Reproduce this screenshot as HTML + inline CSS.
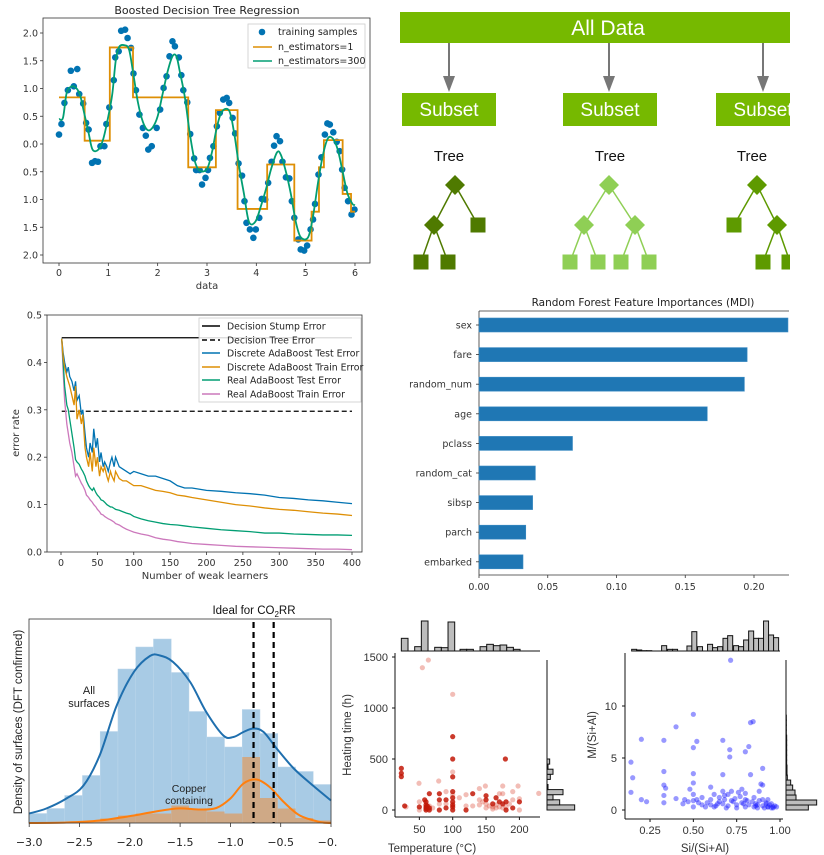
<!DOCTYPE html>
<html><head><meta charset="utf-8">
<style>
html,body{margin:0;padding:0;background:#fff;}
svg{display:block;font-family:"DejaVu Sans","Liberation Sans",sans-serif;}
</style></head>
<body>
<svg id="root" width="824" height="855" viewBox="0 0 824 855" xmlns="http://www.w3.org/2000/svg">
<defs>
<clipPath id="clipP5"><rect x="0" y="600" width="337" height="255"/></clipPath>
<clipPath id="clipP2"><rect x="390" y="0" width="400" height="290"/></clipPath>
<clipPath id="clipP4"><rect x="479" y="300" width="310" height="280"/></clipPath>
</defs>

<!-- PANEL 1 -->
<g id="p1">
<text x="207" y="14" text-anchor="middle" font-size="11" fill="#222">Boosted Decision Tree Regression</text>
<rect x="43" y="18" width="327" height="245" fill="none" stroke="#333" stroke-width="0.8"/>
<g id="p1ticks" font-size="9.5" fill="#333"></g>
<g id="p1marks"></g>
<text x="207" y="289" text-anchor="middle" font-size="10" fill="#333">data</text>
<g>
<rect x="248" y="24" width="117" height="44" fill="#fff" fill-opacity="0.9" stroke="#ccc" stroke-width="0.8"/>
<circle cx="262" cy="32" r="3.3" fill="#0173b2"/>
<text x="278" y="35" font-size="9.5" fill="#222">training samples</text>
<line x1="253" y1="47" x2="272" y2="47" stroke="#de8f05" stroke-width="1.6"/>
<text x="278" y="50" font-size="9.5" fill="#222">n_estimators=1</text>
<line x1="253" y1="61" x2="272" y2="61" stroke="#029e73" stroke-width="1.6"/>
<text x="278" y="64" font-size="9.5" fill="#222">n_estimators=300</text>
</g>
</g>

<!-- PANEL 2 -->
<g id="p2" clip-path="url(#clipP2)">
<rect x="400" y="12" width="400" height="31" fill="#76b900"/>
<text x="608" y="35" text-anchor="middle" font-family="Liberation Sans, sans-serif" font-size="21" fill="#fff">All Data</text>
<g fill="#777" stroke="#777">
<line x1="449" y1="43" x2="449" y2="80" stroke-width="2"/><polygon points="443,76 455,76 449,92" stroke="none"/>
<line x1="609" y1="43" x2="609" y2="80" stroke-width="2"/><polygon points="603,76 615,76 609,92" stroke="none"/>
<line x1="763" y1="43" x2="763" y2="80" stroke-width="2"/><polygon points="757,76 769,76 763,92" stroke="none"/>
</g>
<rect x="402" y="93" width="94" height="33" fill="#76b900"/>
<rect x="563" y="93" width="94" height="33" fill="#76b900"/>
<rect x="716" y="93" width="94" height="33" fill="#76b900"/>
<g font-family="Liberation Sans, sans-serif" font-size="19" fill="#fff" text-anchor="middle">
<text x="449" y="116">Subset</text>
<text x="610" y="116">Subset</text>
<text x="763" y="116">Subset</text>
</g>
<g font-family="Liberation Sans, sans-serif" font-size="15" fill="#111" text-anchor="middle">
<text x="449" y="161">Tree</text>
<text x="610" y="161">Tree</text>
<text x="752" y="161">Tree</text>
</g>
<g id="trees"></g>
</g>

<!-- PANEL 3 -->
<g id="p3">
<rect x="47" y="315" width="315" height="237" fill="none" stroke="#333" stroke-width="0.8"/>
<g id="p3ticks" font-size="9.5" fill="#333"></g>
<g id="p3marks"></g>
<text x="205" y="579" text-anchor="middle" font-size="10" fill="#333">Number of weak learners</text>
<text transform="translate(19,433) rotate(-90)" text-anchor="middle" font-size="10" fill="#333">error rate</text>
<g>
<rect x="199" y="318" width="162" height="84" fill="#fff" fill-opacity="0.85" stroke="#ccc" stroke-width="0.8"/>
<g font-size="9.3" fill="#222">
<line x1="202" y1="326" x2="220" y2="326" stroke="#000" stroke-width="1.5"/><text x="227" y="329.5">Decision Stump Error</text>
<line x1="202" y1="340" x2="220" y2="340" stroke="#000" stroke-width="1.5" stroke-dasharray="5,3"/><text x="227" y="343.5">Decision Tree Error</text>
<line x1="202" y1="353" x2="220" y2="353" stroke="#0173b2" stroke-width="1.5"/><text x="227" y="356.5">Discrete AdaBoost Test Error</text>
<line x1="202" y1="367" x2="220" y2="367" stroke="#de8f05" stroke-width="1.5"/><text x="227" y="370.5">Discrete AdaBoost Train Error</text>
<line x1="202" y1="380" x2="220" y2="380" stroke="#029e73" stroke-width="1.5"/><text x="227" y="383.5">Real AdaBoost Test Error</text>
<line x1="202" y1="394" x2="220" y2="394" stroke="#cc78bc" stroke-width="1.5"/><text x="227" y="397.5">Real AdaBoost Train Error</text>
</g></g>
</g>

<!-- PANEL 4 -->
<g id="p4">
<text x="643" y="306" text-anchor="middle" font-size="10.5" fill="#222">Random Forest Feature Importances (MDI)</text>
<line x1="479" y1="311" x2="789" y2="311" stroke="#333" stroke-width="0.8"/>
<line x1="479" y1="311" x2="479" y2="575" stroke="#333" stroke-width="0.8"/>
<line x1="479" y1="575" x2="789" y2="575" stroke="#333" stroke-width="0.8"/>
<g id="p4marks"></g>
<g id="p4ticks" font-size="9.5" fill="#333"></g>
</g>

<!-- PANEL 5 -->
<g id="p5" clip-path="url(#clipP5)">
<g id="p5marks"></g>
<rect x="29" y="619" width="302" height="204" fill="none" stroke="#333" stroke-width="0.8"/>
<g id="p5ticks" font-size="11" fill="#222"></g>
<text transform="translate(22,722) rotate(-90)" text-anchor="middle" font-family="Liberation Sans, sans-serif" font-size="11.5" fill="#222">Density of surfaces (DFT confirmed)</text>
<text x="254" y="614" text-anchor="middle" font-family="Liberation Sans, sans-serif" font-size="11.5" fill="#111">Ideal for CO<tspan font-size="8" dy="3">2</tspan><tspan dy="-3">RR</tspan></text>
<text x="89" y="694" text-anchor="middle" font-family="Liberation Sans, sans-serif" font-size="11" fill="#222">All</text>
<text x="89" y="707" text-anchor="middle" font-family="Liberation Sans, sans-serif" font-size="11" fill="#222">surfaces</text>
<text x="189" y="792" text-anchor="middle" font-family="Liberation Sans, sans-serif" font-size="10.5" fill="#222">Copper</text>
<text x="189" y="804" text-anchor="middle" font-family="Liberation Sans, sans-serif" font-size="10.5" fill="#222">containing</text>
</g>

<!-- PANEL 6 -->
<g id="p6" font-family="Liberation Sans, sans-serif">
<line x1="395" y1="653" x2="395" y2="817" stroke="#111" stroke-width="1"/>
<line x1="395" y1="817" x2="540" y2="817" stroke="#111" stroke-width="1"/>
<g id="p6marks"></g>
<g id="p6ticks" font-size="11" fill="#333"></g>
<text transform="translate(351,735) rotate(-90)" text-anchor="middle" font-size="11.5" fill="#333">Heating time (h)</text>
<text x="432" y="852" text-anchor="middle" font-size="11.5" fill="#333">Temperature (°C)</text>
</g>

<!-- PANEL 7 -->
<g id="p7" font-family="Liberation Sans, sans-serif">
<line x1="625" y1="653" x2="625" y2="819" stroke="#111" stroke-width="1"/>
<line x1="625" y1="819" x2="783" y2="819" stroke="#111" stroke-width="1"/>
<g id="p7marks"></g>
<g id="p7ticks" font-size="11" fill="#333"></g>
<text transform="translate(596,735) rotate(-90)" text-anchor="middle" font-size="11.5" fill="#333">M/(Si+Al)</text>
<text x="705" y="852" text-anchor="middle" font-size="11.5" fill="#333">Si/(Si+Al)</text>
</g>
</svg>

<script>
// ---------- DATA ----------
// Panel 1
const p1SampleX = [0,0.05,0.11,0.18,0.24,0.30,0.37,0.41,0.49,0.55,0.60,0.67,0.73,0.79,0.84,0.92,0.96,1.02,1.11,1.14,1.21,1.26,1.34,1.39,1.46,1.51,1.56,1.63,1.70,1.76,1.81,1.88,1.98,2.05,2.12,2.18,2.24,2.30,2.35,2.43,2.48,2.52,2.60,2.66,2.74,2.78,2.85,2.90,2.97,3.02,3.06,3.13,3.20,3.26,3.33,3.40,3.45,3.52,3.57,3.64,3.71,3.76,3.80,3.87,3.94,3.99,4.06,4.11,4.18,4.24,4.31,4.36,4.41,4.48,4.53,4.60,4.67,4.72,4.77,4.85,4.90,4.97,5.03,5.10,5.15,5.19,5.26,5.32,5.39,5.44,5.49,5.56,5.63,5.69,5.74,5.79,5.86,5.93,5.99];
const p1SampleY = [0.17,0.36,0.74,0.97,1.32,1.04,1.35,0.90,0.73,0.38,0.26,-0.34,-0.31,-0.32,-0.04,-0.04,0.36,0.66,1.15,1.56,1.67,2.04,2.06,1.91,1.73,1.27,0.97,0.53,0.29,0.15,-0.10,-0.04,0.29,0.62,1.01,1.22,1.58,1.85,1.76,1.56,1.24,0.97,0.75,0.18,-0.26,-0.47,-0.47,-0.73,-0.61,-0.47,-0.25,-0.04,0.32,0.56,0.80,0.83,0.74,0.47,0.19,-0.35,-0.57,-1.03,-1.42,-1.54,-1.69,-1.54,-1.33,-0.99,-1.00,-0.70,-0.32,-0.03,0.14,0.05,-0.32,-0.60,-0.62,-1.03,-1.33,-1.72,-1.90,-1.92,-1.83,-1.54,-1.36,-1.08,-0.55,-0.24,0.17,0.37,0.35,0.21,0.04,-0.13,-0.46,-0.79,-1.03,-1.27,-1.18];
const p1StepBreaks = [0,0.52,1.03,1.5,2.62,3.18,3.62,4.22,4.77,5.12,5.27,5.37,5.75,5.92,6];
const p1StepValues = [0.84,0.06,1.74,0.84,-0.42,0.61,-1.17,-0.37,-1.74,-1.22,-0.42,0.07,-0.9,-1.22];
const p1SmoothX = [0,0.08,0.15,0.22,0.32,0.42,0.5,0.6,0.68,0.8,0.9,1.0,1.08,1.15,1.22,1.33,1.42,1.5,1.6,1.7,1.8,1.9,2.0,2.1,2.2,2.3,2.38,2.45,2.55,2.65,2.75,2.85,3.0,3.1,3.2,3.3,3.45,3.55,3.65,3.75,3.85,3.98,4.1,4.2,4.3,4.42,4.5,4.6,4.7,4.8,4.9,5.05,5.15,5.25,5.35,5.45,5.55,5.65,5.75,5.85,5.95,6];
const p1SmoothY = [0.45,0.47,0.9,1.02,1.03,0.9,0.6,0.2,-0.1,-0.1,0.1,0.5,0.9,1.5,1.75,1.78,1.7,1.3,0.75,0.4,0.25,0.3,0.5,0.9,1.3,1.58,1.58,1.3,0.85,0.2,-0.3,-0.48,-0.45,-0.15,0.3,0.58,0.6,0.2,-0.4,-0.9,-1.4,-1.4,-1.1,-0.8,-0.45,-0.15,-0.2,-0.5,-0.9,-1.4,-1.68,-1.68,-1.3,-0.7,-0.2,0.1,0.1,-0.1,-0.5,-0.9,-1.08,-1.1];
const p1XTicks = [0,1,2,3,4,5,6];
const p1YTicks = [2.0,1.5,1.0,0.5,0.0,-0.5,-1.0,-1.5,-2.0];
const p1YTickLabels = ["2.0","1.5","1.0","0.5","0.0","0.5","1.0","1.5","2.0"];

// Panel 3
const p3N = [1,3,5,8,10,12,15,18,20,22,25,28,30,33,35,38,40,43,45,48,50,53,55,58,60,63,65,68,70,73,75,80,85,90,95,100,110,120,130,140,150,160,170,180,200,220,240,260,280,300,320,340,360,380,400];
const p3DiscreteTest = [0.45,0.42,0.40,0.38,0.39,0.37,0.36,0.34,0.36,0.32,0.33,0.29,0.30,0.25,0.22,0.20,0.23,0.21,0.26,0.22,0.24,0.19,0.21,0.18,0.19,0.18,0.17,0.19,0.20,0.18,0.20,0.18,0.175,0.17,0.165,0.17,0.165,0.16,0.16,0.155,0.15,0.14,0.135,0.135,0.13,0.128,0.125,0.123,0.12,0.115,0.113,0.11,0.108,0.105,0.102];
const p3DiscreteTrain = [0.45,0.41,0.39,0.37,0.36,0.35,0.33,0.31,0.35,0.28,0.30,0.27,0.29,0.22,0.20,0.18,0.21,0.17,0.22,0.18,0.20,0.16,0.18,0.17,0.18,0.16,0.15,0.17,0.16,0.15,0.17,0.155,0.15,0.15,0.145,0.14,0.14,0.135,0.13,0.128,0.125,0.12,0.118,0.115,0.11,0.105,0.10,0.097,0.093,0.09,0.088,0.085,0.082,0.08,0.077];
const p3RealTest = [0.45,0.40,0.35,0.31,0.30,0.28,0.25,0.22,0.195,0.19,0.185,0.175,0.17,0.16,0.15,0.14,0.135,0.13,0.135,0.125,0.12,0.115,0.11,0.108,0.105,0.10,0.098,0.095,0.095,0.092,0.09,0.088,0.085,0.082,0.08,0.075,0.07,0.066,0.063,0.06,0.058,0.057,0.055,0.053,0.05,0.047,0.045,0.043,0.04,0.04,0.038,0.037,0.036,0.036,0.035];
const p3RealTrain = [0.45,0.38,0.32,0.27,0.25,0.23,0.21,0.18,0.16,0.165,0.155,0.145,0.14,0.13,0.12,0.115,0.11,0.105,0.10,0.095,0.09,0.085,0.08,0.078,0.075,0.072,0.07,0.068,0.066,0.063,0.06,0.057,0.052,0.048,0.045,0.042,0.038,0.035,0.03,0.027,0.025,0.022,0.02,0.018,0.016,0.014,0.012,0.011,0.01,0.009,0.008,0.007,0.006,0.006,0.005];
const p3StumpError = 0.452;
const p3TreeError = 0.297;
const p3XTicks = [0,50,100,150,200,250,300,350,400];
const p3YTicks = [0.0,0.1,0.2,0.3,0.4,0.5];

// Panel 4
const p4Features = ["sex","fare","random_num","age","pclass","random_cat","sibsp","parch","embarked"];
const p4Importance = [0.2247,0.195,0.193,0.166,0.068,0.041,0.039,0.034,0.032];
const p4XTicks = [0.00,0.05,0.10,0.15,0.20];

// Panel 5
const p5BinStart = -3.0;
const p5BinWidth = 3/17;
const p5AllHist = [0.19,0.29,0.55,0.95,1.83,3.08,3.52,3.68,3.01,2.23,1.72,1.52,2.27,1.79,1.12,1.03,0.77];
const p5CopperHist = [0,0.01,0.02,0.03,0.09,0.15,0.19,0.19,0.35,0.29,0.23,0.19,1.32,0.5,0.29,0.1,0.05];
const p5KdeAllX = [-3,-2.83,-2.63,-2.46,-2.3,-2.13,-1.96,-1.8,-1.7,-1.57,-1.4,-1.24,-1.07,-0.97,-0.87,-0.77,-0.67,-0.54,-0.37,-0.18,0];
const p5KdeAllY = [0.19,0.29,0.49,0.75,1.35,2.35,3.02,3.34,3.35,3.22,2.82,2.22,1.75,1.72,1.82,1.89,1.82,1.49,1.09,0.75,0.45];
const p5KdeCuX = [-3,-2.63,-2.3,-1.96,-1.8,-1.53,-1.3,-1.14,-1.0,-0.87,-0.74,-0.61,-0.47,-0.31,-0.11,0];
const p5KdeCuY = [0,0.01,0.05,0.15,0.21,0.29,0.27,0.3,0.49,0.79,0.87,0.72,0.42,0.15,0.02,0];
const p5Ideal = [-0.77,-0.57];
const p5XTicks = [-3.0,-2.5,-2.0,-1.5,-1.0,-0.5,0];
const p5XTickLabels = ["−3.0","−2.5","−2.0","−1.5","−1.0","−0.5","−0.0"];

// Panel 6
const p6DarkT = [23,23,23,28,100,100,100,179,60,60,60,60,60,65,65,65,50,80,80,80,90,90,100,100,100,100,100,100,120,130,150,150,165,170,175,180,180,190,200,160,62,58];
const p6DarkH = [408,360,327,40,719,500,325,500,0,15,30,50,80,0,20,160,30,0,100,160,20,100,0,30,50,80,120,180,0,160,100,140,120,80,60,0,80,20,80,60,40,100];
const p6LightT = [54.5,63.5,100,100,49.5,79,175,198,149,229,50,50,65,80,90,90,100,110,120,120,140,140,140,150,150,160,160,165,165,170,170,175,175,180,190,190,200,200,145,155,185,130,70,30];
const p6LightH = [1395,1470,1134,373,262,284,235,235,235,163,0,80,40,60,60,180,150,120,40,150,50,100,210,20,60,10,30,20,50,30,160,20,160,30,100,180,0,110,80,40,60,40,20,30];
const p6TopBinStart = [23,43,53,73,83,93,111,121,141,151,161,171,181,191];
const p6TopCounts = [38,13,90,11,10,87,5,5,13,20,16,18,11,5];
const p6TopBinWidth = 10;
const p6SideBinStart = [0,50,100,150,200,250,300,350,400,450];
const p6SideCounts = [83,38,18,48,3,0,10,18,3,8];
const p6SideBinWidth = 50;
const p6XTicks = [50,100,150,200];
const p6YTicks = [0,500,1000,1500];

// Panel 7
const p7X = [0.715,0.5,0.4,0.2,0.33,0.52,0.83,0.845,0.67,0.5,0.71,0.71,0.8,0.82,0.9,0.14,0.15,0.14,0.2,0.23,0.33,0.33,0.34,0.33,0.33,0.4,0.44,0.47,0.48,0.5,0.5,0.5,0.5,0.5,0.52,0.55,0.55,0.6,0.6,0.6,0.62,0.62,0.65,0.65,0.67,0.67,0.67,0.68,0.7,0.7,0.72,0.72,0.74,0.75,0.75,0.77,0.78,0.78,0.8,0.8,0.8,0.82,0.83,0.84,0.85,0.85,0.86,0.87,0.88,0.88,0.9,0.9,0.9,0.91,0.92,0.93,0.93,0.94,0.95,0.95,0.96,0.97,0.98,0.58,0.63,0.68,0.73,0.76,0.79,0.86,0.89,0.92,0.96,0.53,0.45,0.57,0.64,0.69,0.81,0.87,0.93];
const p7Y = [14.4,9.2,8.0,6.8,6.7,6.6,8.4,8.5,6.7,6.0,5.8,5.1,5.6,6.1,4.0,4.6,3.1,1.7,1.0,0.8,3.7,2.4,2.1,1.4,0.7,1.1,0.6,0.8,2.0,3.5,2.6,1.5,0.9,0.3,1.0,0.5,1.2,2.2,1.0,0.5,1.5,0.3,0.8,1.2,3.4,1.8,0.6,1.0,1.5,0.4,0.9,1.8,1.1,0.5,0.2,1.3,0.7,2.0,0.3,1.0,1.6,0.5,3.4,0.8,0.3,1.2,0.6,0.2,0.9,1.8,0.4,1.0,2.4,0.2,0.7,0.3,1.0,0.5,0.2,0.6,0.3,0.4,0.3,0.7,0.4,1.4,0.8,1.7,0.6,0.4,2.5,0.6,0.2,0.7,1.0,0.3,0.6,0.2,0.9,0.5,0.3];
const p7TopBinStart = [0.144,0.173,0.202,0.231,0.317,0.351,0.380,0.463,0.491,0.524,0.582,0.611,0.640,0.671,0.698,0.732,0.761,0.790,0.819,0.848,0.876,0.905,0.934,0.963];
const p7TopCounts = [5,3,1,1,16,5,5,15,58,13,20,10,13,38,46,16,13,33,60,38,38,90,48,40];
const p7TopBinWidth = 0.029;
const p7SideBinStart = [0,0.48,0.96,1.44,1.92,2.4,2.88,3.36,3.84,4.32,4.8,5.28,5.76,6.24,6.72,7.2,7.68,8.16,8.64];
const p7SideCounts = [67,92,30,27,20,14,4,3,3,2,2,2,2,2,2,1,1,1,1];
const p7SideBinWidth = 0.48;
const p7XTicks = [0.25,0.50,0.75,1.00];
const p7YTicks = [0,5,10];

// ---------- HELPERS ----------
const NS = 'http://www.w3.org/2000/svg';
function mk(parent, tag, attrs){
  const e = document.createElementNS(NS, tag);
  for (const k in attrs) e.setAttribute(k, attrs[k]);
  parent.appendChild(e);
  return e;
}
function smoothPath(pts){
  let d = 'M' + pts[0][0].toFixed(2) + ',' + pts[0][1].toFixed(2);
  for (let i = 0; i < pts.length - 1; i++){
    const p0 = pts[Math.max(0,i-1)], p1 = pts[i], p2 = pts[i+1], p3 = pts[Math.min(pts.length-1,i+2)];
    const c1x = p1[0] + (p2[0]-p0[0])/6, c1y = p1[1] + (p2[1]-p0[1])/6;
    const c2x = p2[0] - (p3[0]-p1[0])/6, c2y = p2[1] - (p3[1]-p1[1])/6;
    d += ' C' + c1x.toFixed(2)+','+c1y.toFixed(2)+' '+c2x.toFixed(2)+','+c2y.toFixed(2)+' '+p2[0].toFixed(2)+','+p2[1].toFixed(2);
  }
  return d;
}
function polyPath(xs, ys, fx, fy){
  return xs.map((x,i)=>(i?'L':'M')+fx(x).toFixed(2)+','+fy(ys[i]).toFixed(2)).join(' ');
}

// ---------- PANEL 1 ----------
(function(){
  const x = v => 59 + 49.33*v, y = v => 144 - 55.5*v;
  const tk = document.getElementById('p1ticks'), mg = document.getElementById('p1marks');
  p1XTicks.forEach(v=>{
    const l = mk(tk,'line',{x1:x(v),x2:x(v),y1:263,y2:266,stroke:'#333','stroke-width':0.8});
    
    
    const t = mk(tk,'text',{x:x(v),y:276,'text-anchor':'middle'}); t.textContent = v;
    
    
  });
  p1YTicks.forEach((v,i)=>{
    const l = mk(tk,'line',{x1:40,x2:43,y1:y(v),y2:y(v),stroke:'#333','stroke-width':0.8});
    
    
    const t = mk(tk,'text',{x:38,y:y(v)+3.5,'text-anchor':'end'}); t.textContent = p1YTickLabels[i];
    
    
  });
  p1SampleX.forEach((v,i)=>{
    const c = mk(mg,'circle',{cx:x(v),cy:y(p1SampleY[i]),r:3.3,fill:'#0173b2'});
    
    
  });
  let d = '';
  p1StepValues.forEach((v,i)=>{
    d += (i?'L':'M') + x(p1StepBreaks[i]) + ',' + y(v) + ' L' + x(p1StepBreaks[i+1]) + ',' + y(v) + ' ';
  });
  const st = mk(mg,'path',{d:d,fill:'none',stroke:'#de8f05','stroke-width':1.8});
  
  
  const sm = mk(mg,'path',{d:smoothPath(p1SmoothX.map((v,i)=>[x(v),y(p1SmoothY[i])])),fill:'none',stroke:'#029e73','stroke-width':1.8});
  
  
})();

// ---------- PANEL 2 trees ----------
(function(){
  const g = document.getElementById('trees');
  function diamond(cx, cy, col){
    const p = mk(g,'polygon',{points:`${cx},${cy-10} ${cx+10},${cy} ${cx},${cy+10} ${cx-10},${cy}`,fill:col});
    
    
  }
  function sq(cx, cy, col){
    const r = mk(g,'rect',{x:cx-7.5,y:cy-7.5,width:15,height:15,fill:col});
    
    
  }
  function edge(a,b,c,d,col){
    const l = mk(g,'line',{x1:a,y1:b,x2:c,y2:d,stroke:col,'stroke-width':1.5});
    
    
  }
  let c = '#4f7a00';
  edge(455,185,434,225,c); edge(455,185,478,225,c); edge(434,225,421,262,c); edge(434,225,448,262,c);
  diamond(455,185,c); diamond(434,225,c); sq(478,225,c); sq(421,262,c); sq(448,262,c);
  c = '#8fcf55';
  edge(609,185,584,225,c); edge(609,185,635,225,c);
  edge(584,225,570,262,c); edge(584,225,598,262,c); edge(635,225,621,262,c); edge(635,225,649,262,c);
  diamond(609,185,c); diamond(584,225,c); diamond(635,225,c);
  sq(570,262,c); sq(598,262,c); sq(621,262,c); sq(649,262,c);
  c = '#5e9a00';
  edge(757,185,734,225,c); edge(757,185,777,225,c); edge(777,225,763,262,c); edge(777,225,790,262,c);
  diamond(757,185,c); sq(734,225,c); diamond(777,225,c); sq(763,262,c); sq(789,262,c);
})();

// ---------- PANEL 3 ----------
(function(){
  const x = v => 61 + 0.7275*v, y = v => 552 - 474*v;
  const tk = document.getElementById('p3ticks'), mg = document.getElementById('p3marks');
  p3XTicks.forEach(v=>{
    const l = mk(tk,'line',{x1:x(v),x2:x(v),y1:552,y2:555,stroke:'#333','stroke-width':0.8});
    
    
    const t = mk(tk,'text',{x:x(v),y:566,'text-anchor':'middle'}); t.textContent = v;
    
    
  });
  p3YTicks.forEach(v=>{
    const l = mk(tk,'line',{x1:44,x2:47,y1:y(v),y2:y(v),stroke:'#333','stroke-width':0.8});
    
    
    const t = mk(tk,'text',{x:42,y:y(v)+3.5,'text-anchor':'end'}); t.textContent = v.toFixed(1);
    
    
  });
  const s1 = mk(mg,'line',{x1:x(1),x2:x(400),y1:y(p3StumpError),y2:y(p3StumpError),stroke:'#000','stroke-width':1.3});
  
  
  const s2 = mk(mg,'line',{x1:x(1),x2:x(400),y1:y(p3TreeError),y2:y(p3TreeError),stroke:'#000','stroke-width':1.3,'stroke-dasharray':'5,3'});
  
  
  const series = [[p3RealTrain,'#cc78bc','real-train-error-line'],[p3RealTest,'#029e73','real-test-error-line'],[p3DiscreteTest,'#0173b2','discrete-test-error-line'],[p3DiscreteTrain,'#de8f05','discrete-train-error-line']];
  series.forEach(s=>{
    const p = mk(mg,'path',{d:polyPath(p3N,s[0],x,y),fill:'none',stroke:s[1],'stroke-width':1.3});
    
    
  });
})();

// ---------- PANEL 4 ----------
(function(){
  const x = v => 479 + 1375*v;
  const yc = i => 325 + 29.6*i;
  const tk = document.getElementById('p4ticks'), mg = document.getElementById('p4marks');
  p4Features.forEach((f,i)=>{
    const r = mk(mg,'rect',{x:479,y:yc(i)-7,width:Math.min(x(p4Importance[i]),789)-479,height:14,fill:'#1f77b4',stroke:'#3d8cc4','stroke-width':0.6});
    
    
    const l = mk(tk,'line',{x1:476,x2:479,y1:yc(i),y2:yc(i),stroke:'#333','stroke-width':0.8});
    
    
    const t = mk(tk,'text',{x:472,y:yc(i)+3.5,'text-anchor':'end'}); t.textContent = f;
    
    
  });
  p4XTicks.forEach(v=>{
    const l = mk(tk,'line',{x1:x(v),x2:x(v),y1:575,y2:578,stroke:'#333','stroke-width':0.8});
    
    
    const t = mk(tk,'text',{x:x(v),y:590,'text-anchor':'middle'}); t.textContent = v.toFixed(2);
    
    
  });
})();

// ---------- PANEL 5 ----------
(function(){
  const x = v => 331 + 100.6*v, y = d => 823 - 50*d;
  const tk = document.getElementById('p5ticks'), mg = document.getElementById('p5marks');
  p5AllHist.forEach((h,i)=>{
    const x0 = x(p5BinStart + i*p5BinWidth), x1 = x(p5BinStart + (i+1)*p5BinWidth);
    const r = mk(mg,'rect',{x:x0,y:y(h),width:x1-x0,height:823-y(h),fill:'#a8cbe5',stroke:'#bcd6ea','stroke-width':0.5});
    
    
  });
  p5CopperHist.forEach((h,i)=>{
    const x0 = x(p5BinStart + i*p5BinWidth), x1 = x(p5BinStart + (i+1)*p5BinWidth);
    const r = mk(mg,'rect',{x:x0,y:y(h),width:x1-x0,height:823-y(h),fill:'#cfa986'});
    
    
  });
  const k1 = mk(mg,'path',{d:smoothPath(p5KdeAllX.map((v,i)=>[x(v),y(p5KdeAllY[i])])),fill:'none',stroke:'#1f6fae','stroke-width':2});
  
  
  const k2 = mk(mg,'path',{d:smoothPath(p5KdeCuX.map((v,i)=>[x(v),y(p5KdeCuY[i])])),fill:'none',stroke:'#ff7f0e','stroke-width':2});
  
  
  p5Ideal.forEach(v=>{
    const l = mk(mg,'line',{x1:x(v),x2:x(v),y1:622,y2:823,stroke:'#000','stroke-width':2.2,'stroke-dasharray':'6,4'});
    
    
  });
  p5XTicks.forEach((v,i)=>{
    const l = mk(tk,'line',{x1:x(v),x2:x(v),y1:823,y2:827,stroke:'#333','stroke-width':0.8});
    
    
    const t = mk(tk,'text',{x:x(v),y:846,'text-anchor':'middle'}); t.textContent = p5XTickLabels[i];
    
    
  });
})();

// ---------- PANEL 6 ----------
(function(){
  const x = v => 386 + 0.667*v, y = v => 810 - 0.102*v;
  const tk = document.getElementById('p6ticks'), mg = document.getElementById('p6marks');
  p6TopBinStart.forEach((b,i)=>{
    const h = p6TopCounts[i]/3;
    const r = mk(mg,'rect',{x:x(b),y:651-h,width:x(b+p6TopBinWidth)-x(b),height:h,fill:'#bdbdbd',stroke:'#111','stroke-width':1});
    
    
  });
  const bl = mk(mg,'line',{x1:401,x2:540,y1:651,y2:651,stroke:'#111','stroke-width':1});
  
  
  p6SideBinStart.forEach((b,i)=>{
    const w = p6SideCounts[i]/3;
    const r = mk(mg,'rect',{x:547,y:y(b+p6SideBinWidth),width:w,height:y(b)-y(b+p6SideBinWidth),fill:'#bdbdbd',stroke:'#111','stroke-width':1});
    
    
  });
  const sl = mk(mg,'line',{x1:547,x2:547,y1:660,y2:810,stroke:'#111','stroke-width':1});
  
  
  p6LightT.forEach((t,i)=>{
    const c = mk(mg,'circle',{cx:x(t),cy:y(p6LightH[i]),r:2.6,fill:'#d9432f','fill-opacity':0.35});
    
    
  });
  p6DarkT.forEach((t,i)=>{
    const c = mk(mg,'circle',{cx:x(t),cy:y(p6DarkH[i]),r:2.6,fill:'#c21807','fill-opacity':0.85});
    
    
  });
  p6XTicks.forEach(v=>{
    const l = mk(tk,'line',{x1:x(v),x2:x(v),y1:817,y2:820,stroke:'#111'});
    
    
    const t = mk(tk,'text',{x:x(v),y:833,'text-anchor':'middle'}); t.textContent = v;
    
    
  });
  p6YTicks.forEach(v=>{
    const l = mk(tk,'line',{x1:392,x2:395,y1:y(v),y2:y(v),stroke:'#111'});
    
    
    const t = mk(tk,'text',{x:388,y:y(v)+4,'text-anchor':'end'}); t.textContent = v;
    
    
  });
})();

// ---------- PANEL 7 ----------
(function(){
  const x = v => 606.7 + 173.3*v, y = v => 810 - 10.4*v;
  const tk = document.getElementById('p7ticks'), mg = document.getElementById('p7marks');
  p7TopBinStart.forEach((b,i)=>{
    const h = p7TopCounts[i]/3;
    const r = mk(mg,'rect',{x:x(b),y:651-h,width:x(b+p7TopBinWidth)-x(b),height:h,fill:'#bdbdbd',stroke:'#111','stroke-width':1});
    
    
  });
  const bl = mk(mg,'line',{x1:632,x2:780,y1:651,y2:651,stroke:'#111','stroke-width':1});
  
  
  p7SideBinStart.forEach((b,i)=>{
    const w = p7SideCounts[i]/3;
    const r = mk(mg,'rect',{x:786,y:y(b+p7SideBinWidth),width:w,height:y(b)-y(b+p7SideBinWidth),fill:'#bdbdbd',stroke:'#111','stroke-width':1});
    
    
  });
  const sl = mk(mg,'line',{x1:786,x2:786,y1:660,y2:810,stroke:'#111','stroke-width':1});
  
  
  p7X.forEach((v,i)=>{
    const c = mk(mg,'circle',{cx:x(v),cy:y(p7Y[i]),r:2.6,fill:'#1a1aff','fill-opacity':0.45});
    
    
  });
  p7XTicks.forEach(v=>{
    const l = mk(tk,'line',{x1:x(v),x2:x(v),y1:819,y2:822,stroke:'#111'});
    
    
    const t = mk(tk,'text',{x:x(v),y:834,'text-anchor':'middle'}); t.textContent = v.toFixed(2);
    
    
  });
  p7YTicks.forEach(v=>{
    const l = mk(tk,'line',{x1:622,x2:625,y1:y(v),y2:y(v),stroke:'#111'});
    
    
    const t = mk(tk,'text',{x:617,y:y(v)+4,'text-anchor':'end'}); t.textContent = v;
    
    
  });
})();
</script>
</body></html>
